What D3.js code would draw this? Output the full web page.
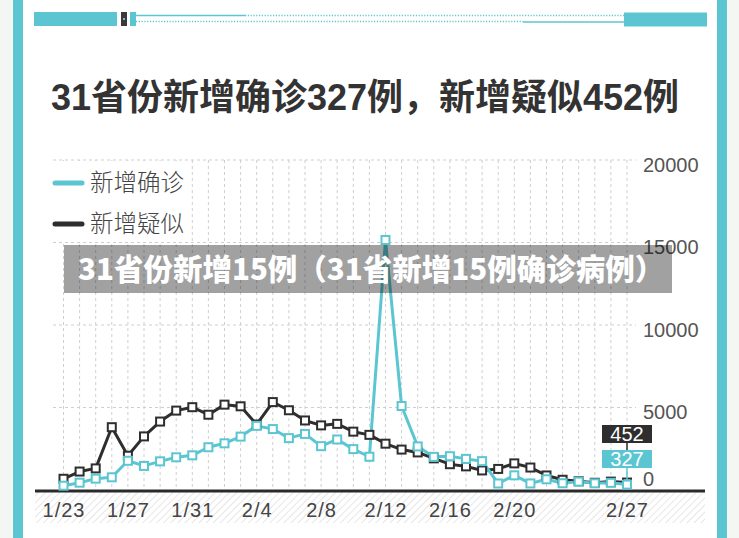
<!DOCTYPE html>
<html><head><meta charset="utf-8">
<script src="https://cdn.jsdelivr.net/npm/d3@7/dist/d3.min.js"></script>
<style>
html,body{margin:0;padding:0;background:#fff;}
svg{display:block;}
text{font-family:"Liberation Sans","Noto Sans CJK SC",sans-serif;}
</style></head>
<body>
<svg id="c" width="739" height="538"></svg>
<script>
const dates = ["1/23","1/24","1/25","1/26","1/27","1/28","1/29","1/30","1/31","2/1","2/2","2/3","2/4","2/5","2/6","2/7","2/8","2/9","2/10","2/11","2/12","2/13","2/14","2/15","2/16","2/17","2/18","2/19","2/20","2/21","2/22","2/23","2/24","2/25","2/26","2/27"];
const confirmed = [259,444,688,769,1771,1459,1737,1982,2102,2590,2829,3235,3887,3694,3143,3399,2656,3062,2478,2015,15152,5090,2641,2009,2048,1886,1749,394,889,397,648,409,508,406,433,327];
const suspected = [680,1118,1309,3806,2077,3248,4148,4812,5019,4562,5173,5072,3971,5328,4833,4214,3916,4008,3536,3342,2807,2450,2277,1918,1563,1432,1185,1277,1614,1361,882,620,530,439,508,452];
const xTickLabels = ["1/23","1/27","1/31","2/4","2/8","2/12","2/16","2/20","2/27"];
const yTicks = [0,5000,10000,15000,20000];
const seriesNames = ["新增确诊","新增疑似"];
const titleText = "31省份新增确诊327例，新增疑似452例";
const bannerText = "31省份新增15例（31省新增15例确诊病例）";

const CYAN = "#5bc6d1", DARK = "#2e2e2e";
const FONT = '"Liberation Sans","Noto Sans CJK SC",sans-serif';
const svg = d3.select("#c");

// background & frame
svg.append("rect").attr("x",0).attr("y",0).attr("width",739).attr("height",538).attr("fill","#f4f6f4");
svg.append("rect").attr("x",13).attr("y",0).attr("width",714).attr("height",538).attr("fill","#ffffff");
svg.append("rect").attr("x",13).attr("y",0).attr("width",10).attr("height",538).attr("fill",CYAN);
svg.append("rect").attr("x",717).attr("y",0).attr("width",10).attr("height",538).attr("fill",CYAN);

// top decoration
const deco = svg.append("g");
deco.append("rect").attr("x",34).attr("y",12).attr("width",83).attr("height",14).attr("fill",CYAN);
deco.append("rect").attr("x",121).attr("y",12).attr("width",6).attr("height",14).attr("fill","#3a3a3a");
deco.append("rect").attr("x",123).attr("y",18).attr("width",2).attr("height",2).attr("fill","#9ad");
deco.append("rect").attr("x",130).attr("y",12).attr("width",6).attr("height",14).attr("fill",CYAN);
deco.append("line").attr("x1",136).attr("x2",245).attr("y1",15.5).attr("y2",15.5).attr("stroke",CYAN).attr("stroke-width",1.6);
deco.append("line").attr("x1",245).attr("x2",624).attr("y1",15.5).attr("y2",15.5).attr("stroke",CYAN).attr("stroke-width",1.6).attr("stroke-dasharray","1.2,1.6");
deco.append("line").attr("x1",136).attr("x2",523).attr("y1",21.5).attr("y2",21.5).attr("stroke",CYAN).attr("stroke-width",1.6).attr("stroke-dasharray","1.2,1.6");
deco.append("line").attr("x1",523).attr("x2",624).attr("y1",22).attr("y2",22).attr("stroke",CYAN).attr("stroke-width",1.6);
deco.append("rect").attr("x",624).attr("y",12.5).attr("width",83).attr("height",14).attr("fill",CYAN);

// title
svg.append("text").attr("x",365).attr("y",110).attr("text-anchor","middle")
  .attr("font-size",36).attr("font-weight","bold").attr("fill","#333").text(titleText);

// scales
const x = d3.scalePoint().domain(dates).range([63.5,627]);
const y = d3.scaleLinear().domain([0,20000]).range([490,160]);

// hatch pattern
const defs = svg.append("defs");
const pat = defs.append("pattern").attr("id","hatch").attr("patternUnits","userSpaceOnUse")
  .attr("width",5).attr("height",5).attr("patternTransform","rotate(45)");
pat.append("line").attr("x1",0).attr("y1",0).attr("x2",0).attr("y2",5).attr("stroke","#d9d9d9").attr("stroke-width",1.3);
svg.append("rect").attr("x",35).attr("y",491).attr("width",670).attr("height",32).attr("fill","url(#hatch)");

// gridlines
const grid = svg.append("g");
grid.selectAll("line.v").data(dates).join("line").attr("class","v")
  .attr("x1",d=>x(d)).attr("x2",d=>x(d)).attr("y1",y(20000)).attr("y2",y(0))
  .attr("stroke","#cfcfcf").attr("stroke-width",1).attr("stroke-dasharray","3,3");
// legend white box hides vertical grid
svg.append("rect").attr("x",48).attr("y",161).attr("width",140).attr("height",81).attr("fill","#fff");
grid.selectAll("line.h").data(yTicks.filter(d=>d>0)).join("line").attr("class","h")
  .attr("x1",53).attr("x2",636).attr("y1",d=>y(d)).attr("y2",d=>y(d))
  .attr("stroke","#cfcfcf").attr("stroke-width",1).attr("stroke-dasharray","3,3");

// baseline
svg.append("line").attr("x1",35).attr("x2",705).attr("y1",491).attr("y2",491).attr("stroke","#2a2a2a").attr("stroke-width",3);

// x axis
const xAxis = d3.axisBottom(x).tickValues(xTickLabels).tickSize(0).tickPadding(0);
const gx = svg.append("g").attr("transform","translate(0,503)").call(xAxis);
gx.select(".domain").remove();
gx.selectAll("text").attr("font-size",20).attr("fill","#444").attr("dy","0.68em")
  .style("letter-spacing","1px").style("font-family",FONT);

// y axis
const yAxis = d3.axisRight(y).tickValues(yTicks).tickSize(0).tickPadding(0).tickFormat(d3.format("d"));
const gy = svg.append("g").attr("transform","translate(643,0)").call(yAxis);
gy.select(".domain").remove();
gy.selectAll("text").attr("font-size",20).attr("fill","#555").attr("dy",d=>d===0?"-0.22em":"0.55em")
  .style("font-family",FONT);

// lines
const line = d3.line().x((d,i)=>x(dates[i])).y(d=>y(d));
const series = [{vals:suspected,color:DARK},{vals:confirmed,color:CYAN}];
series.forEach(s=>{
  svg.append("path").datum(s.vals).attr("d",line).attr("fill","none")
    .attr("stroke",s.color).attr("stroke-width",3).attr("stroke-linejoin","round");
});
series.forEach(s=>{
  svg.append("g").selectAll("rect").data(s.vals).join("rect")
    .attr("x",(d,i)=>x(dates[i])-4).attr("y",d=>y(d)-4).attr("width",8).attr("height",8)
    .attr("fill","#fff").attr("stroke",s.color).attr("stroke-width",2);
});

// end labels
const lastX = x(dates[dates.length-1]);
svg.append("line").attr("x1",lastX).attr("x2",lastX).attr("y1",443).attr("y2",451).attr("stroke",DARK).attr("stroke-width",1.5);
svg.append("line").attr("x1",lastX).attr("x2",lastX).attr("y1",468).attr("y2",y(confirmed[confirmed.length-1])-4).attr("stroke",CYAN).attr("stroke-width",1.5);
svg.append("rect").attr("x",lastX-25).attr("y",425).attr("width",50).attr("height",18).attr("fill",DARK);
svg.append("text").attr("x",lastX).attr("y",441).attr("text-anchor","middle").attr("font-size",20).attr("fill","#fff")
  .text(suspected[suspected.length-1]);
svg.append("rect").attr("x",lastX-25).attr("y",450).attr("width",50).attr("height",18).attr("fill",CYAN);
svg.append("text").attr("x",lastX).attr("y",466).attr("text-anchor","middle").attr("font-size",20).attr("fill","#fff")
  .text(confirmed[confirmed.length-1]);

// legend
const leg = svg.append("g");
[{name:seriesNames[0],color:CYAN,y:183},{name:seriesNames[1],color:DARK,y:224}].forEach(l=>{
  leg.append("line").attr("x1",55).attr("x2",82).attr("y1",l.y).attr("y2",l.y).attr("stroke",l.color)
    .attr("stroke-width",5).attr("stroke-linecap","round");
  leg.append("text").attr("x",90).attr("y",l.y).attr("dy","0.36em").attr("font-size",23.5).attr("fill","#444")
    .style("font-family",'"Noto Sans CJK SC",sans-serif').style("font-weight",300).text(l.name);
});

// banner overlay
svg.append("rect").attr("x",64).attr("y",245).attr("width",608).attr("height",48).attr("fill","rgba(0,0,0,0.37)");
svg.append("text").attr("x",78).attr("y",269).attr("dy","0.36em").attr("font-size",29.5).attr("font-weight",900)
  .attr("fill","#fff").style("font-family",'"Noto Sans CJK SC",sans-serif').text(bannerText);
</script>
</body></html>
